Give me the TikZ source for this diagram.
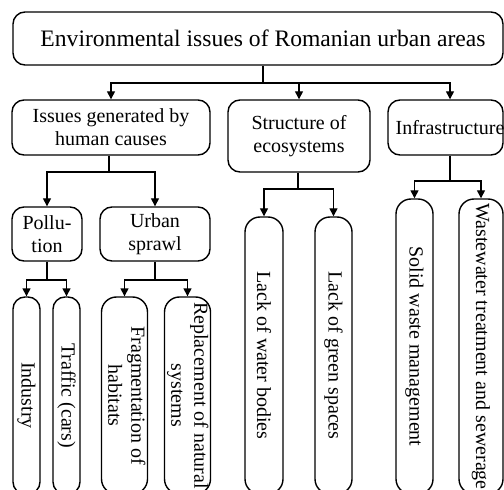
\documentclass[tikz,border=0pt]{standalone}
\usepackage{fontspec}
\setmainfont{Liberation Serif}
\usetikzlibrary{arrows.meta}
\newcommand{\twoline}[2]{\begin{tabular}{@{}c@{}}#1\\#2\end{tabular}}
\begin{document}
\begin{tikzpicture}[x=1bp,y=-1bp,
  box/.style={draw, line width=1.4bp, rounded corners=12bp, inner sep=0pt, align=center, font=\fontsize{20bp}{23bp}\selectfont},
  tallbox/.style={box, rounded corners=15bp},
  slimbox/.style={box, rounded corners=12bp},
  lbl/.style={inner sep=0pt, align=center, font=\fontsize{20bp}{23bp}\selectfont},
  link/.style={line width=1.4bp},
  arr/.style={link, -{Triangle[length=8bp,width=8bp]}}]
\useasboundingbox (0,0) rectangle (504,490);
\clip (0,0) rectangle (504,490);
% level 1
\node[box, minimum width=490bp, minimum height=53bp] (top) at (258,38.5) {};
\node[lbl, font=\fontsize{23.6bp}{27bp}\selectfont] (topT) at (263,38.5) {Environmental issues of Romanian urban areas};
% level 2
\node[box, minimum width=198bp, minimum height=55bp] (issues) at (111,127.5) {Issues generated by\\human causes};
\node[box, minimum width=142bp, minimum height=72bp] (struct) at (299,136) {Structure of\\ecosystems};
\node[box, minimum width=115bp, minimum height=55bp] (infra) at (445.5,127.5) {};
\node[lbl] (infraT) at (450,128) {Infrastructure};
% level 3
\node[box, minimum width=70bp, minimum height=54bp] (poll) at (47,234) {Pollu-\\tion};
\node[box, minimum width=110bp, minimum height=54bp] (sprawl) at (155,234) {Urban\\sprawl};
\node[tallbox, minimum width=38bp, minimum height=277bp] (water) at (264,355.5) {\rotatebox{-90}{Lack of water bodies}};
\node[tallbox, minimum width=37bp, minimum height=277bp] (green) at (333.5,355.5) {\rotatebox{-90}{Lack of green spaces}};
\node[tallbox, minimum width=37bp, minimum height=295bp] (solid) at (414.5,346.5) {\rotatebox{-90}{Solid waste management}};
\node[tallbox, minimum width=44bp, minimum height=295bp] (waste) at (481,346.5) {\rotatebox{-90}{Wastewater treatment and sewerage}};
% level 4
\node[slimbox, minimum width=27bp, minimum height=197bp] (ind) at (26.5,395.5) {\rotatebox{-90}{Industry}};
\node[slimbox, minimum width=27bp, minimum height=197bp] (traf) at (66.5,395.5) {\rotatebox{-90}{Traffic (cars)}};
\node[tallbox, minimum width=45bp, minimum height=197bp] (frag) at (124.5,395.5) {\rotatebox{-90}{\twoline{Fragmentation of}{habitats}}};
\node[tallbox, minimum width=45bp, minimum height=197bp] (repl) at (187.5,395.5) {\rotatebox{-90}{\twoline{Replacement of natural}{systems}}};
% junctions
\coordinate (j0) at (263,83);
\coordinate (j1) at (109,172);
\coordinate (j2) at (298,189);
\coordinate (j3) at (450,181);
\coordinate (j4) at (47,280);
\coordinate (j5) at (155,280);
% connectors
\draw[link] (j0 |- top.south) -- (j0);
\draw[arr] (j0) -| (issues.north);
\draw[arr] (j0) -| (struct.north);
\draw[arr] (j0) -| (infraT |- infra.north);
\draw[link] (j1 |- issues.south) -- (j1);
\draw[arr] (j1) -| (poll.north);
\draw[arr] (j1) -| (sprawl.north);
\draw[link] (j2 |- struct.south) -- (j2);
\draw[arr] (j2) -| (water.north);
\draw[arr] (j2) -| (green.north);
\draw[link] (j3 |- infra.south) -- (j3);
\draw[arr] (j3) -| (solid.north);
\draw[arr] (j3) -| (waste.north);
\draw[link] (j4 |- poll.south) -- (j4);
\draw[arr] (j4) -| (ind.north);
\draw[arr] (j4) -| (traf.north);
\draw[link] (j5 |- sprawl.south) -- (j5);
\draw[arr] (j5) -| (frag.north);
\draw[arr] (j5) -| (repl.north);
\end{tikzpicture}
\end{document}
